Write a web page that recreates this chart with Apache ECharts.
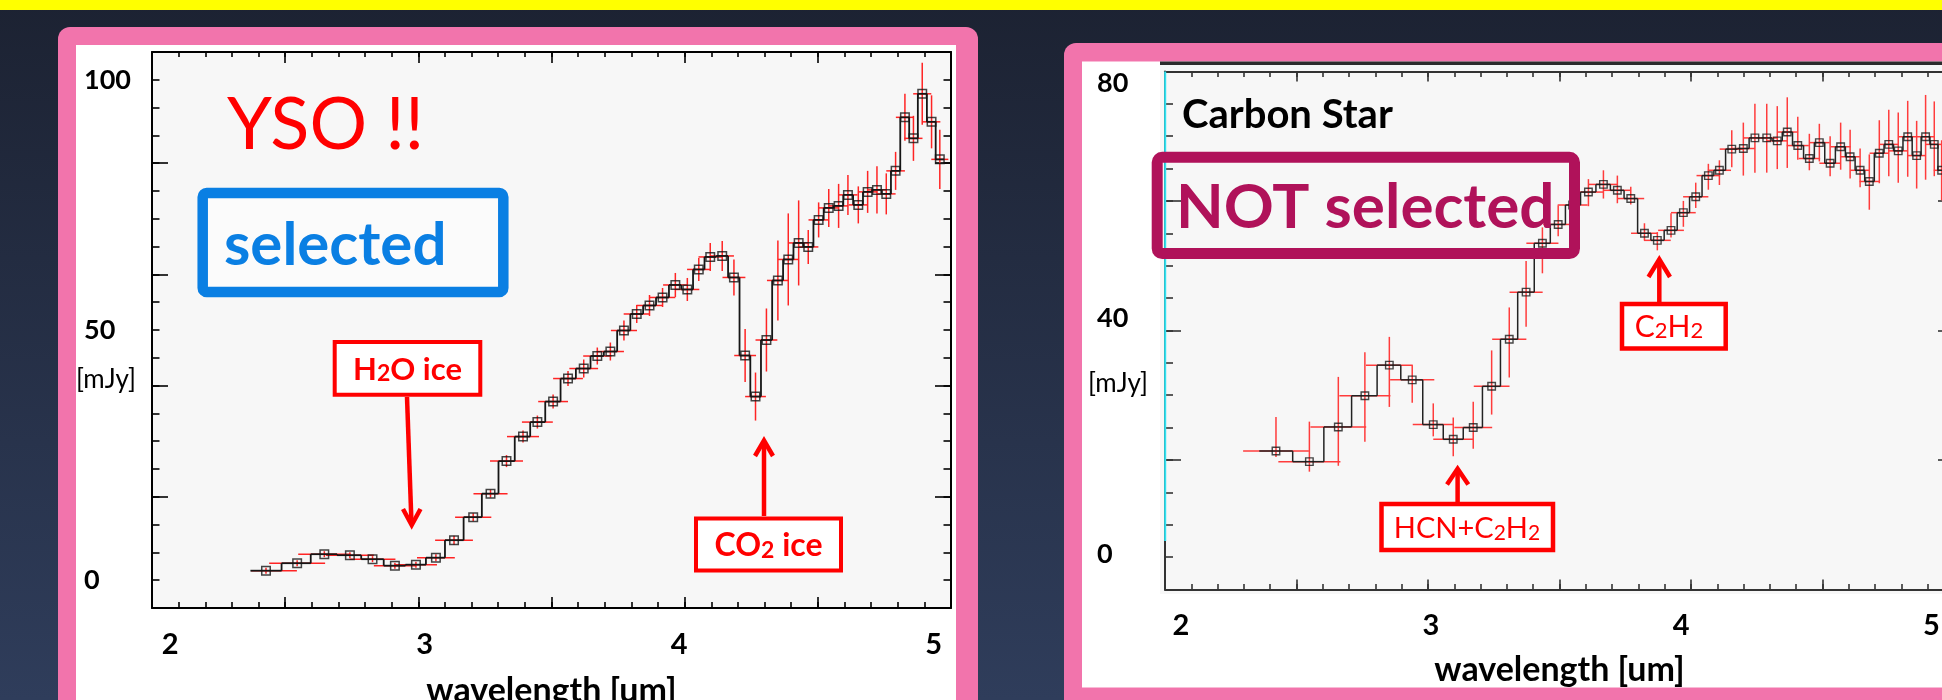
<!DOCTYPE html>
<html><head><meta charset="utf-8">
<script src="https://cdn.jsdelivr.net/npm/echarts@6/dist/echarts.min.js"></script>
<style>html,body{margin:0;padding:0;background:#1f2637;}#c{width:1942px;height:700px;}</style>
</head><body><div id="c"></div>
<script>
// ---------------- DATA ----------------
// YSO spectrum (left panel): wavelength [um], flux [mJy], flux error [mJy], bin extent left/right [um]
const ysoWavelength = [2.428,2.545,2.647,2.743,2.828,2.912,2.991,3.066,3.134,3.206,3.271,3.331,3.393,3.447,3.506,3.562,3.621,3.672,3.721,3.772,3.820,3.868,3.917,3.965,4.010,4.053,4.096,4.141,4.185,4.227,4.266,4.307,4.350,4.389,4.428,4.464,4.503,4.541,4.578,4.613,4.652,4.687,4.722,4.757,4.792,4.827,4.859,4.892,4.927,4.958];
const ysoFlux = [1.9,3.4,5.2,5.0,4.2,2.9,3.1,4.5,8.0,12.6,17.3,23.8,28.7,31.6,35.7,40.3,42.3,44.8,45.7,49.9,53.2,54.9,56.5,59.0,58.1,62.1,64.6,64.8,60.5,44.9,36.7,48.0,59.9,64.1,67.4,66.6,72.0,74.4,74.8,77.0,75.0,77.6,78.0,77.2,81.8,92.5,88.3,97.2,91.6,84.1];
const ysoFluxErr = [0.6,0.6,0.6,0.6,0.6,0.6,0.6,0.7,0.9,0.8,0.8,1.2,1.2,1.3,1.4,1.5,1.8,1.7,1.8,2.0,1.8,2.1,1.9,2.4,2.3,2.3,2.8,3.0,3.6,5.3,4.8,6.3,8.0,9.2,8.5,3.4,3.5,3.8,4.4,4.0,3.7,4.2,4.7,4.1,3.8,4.7,4.5,6.2,5.3,5.9];
const ysoBinLeft = [0.056,0.105,0.098,0.090,0.086,0.079,0.079,0.071,0.071,0.068,0.064,0.062,0.060,0.058,0.056,0.056,0.054,0.053,0.051,0.049,0.049,0.049,0.048,0.046,0.045,0.044,0.044,0.044,0.043,0.041,0.039,0.041,0.041,0.039,0.039,0.038,0.038,0.038,0.036,0.036,0.036,0.036,0.035,0.035,0.035,0.034,0.034,0.034,0.033,0.032];
const ysoBinRight = [0.116,0.105,0.098,0.090,0.086,0.079,0.079,0.071,0.071,0.068,0.064,0.062,0.060,0.058,0.056,0.056,0.054,0.053,0.051,0.049,0.049,0.049,0.048,0.046,0.045,0.044,0.044,0.044,0.043,0.041,0.039,0.041,0.041,0.039,0.039,0.038,0.038,0.038,0.036,0.036,0.036,0.036,0.035,0.035,0.035,0.034,0.034,0.034,0.033,0.032];

// Carbon star spectrum (right panel)
const carbonWavelength = [2.422,2.549,2.659,2.760,2.853,2.940,3.020,3.096,3.172,3.242,3.309,3.373,3.435,3.495,3.550,3.610,3.667,3.720,3.771,3.823,3.872,3.924,3.971,4.018,4.066,4.108,4.155,4.199,4.243,4.288,4.328,4.366,4.406,4.450,4.488,4.529,4.569,4.605,4.643,4.678,4.716,4.752,4.788,4.824,4.858,4.892,4.925,4.953];
const carbonFlux = [17.5,15.7,21.6,26.9,32.1,29.6,22.0,19.5,21.5,28.5,36.5,44.5,52.8,56.0,59.3,61.5,62.8,61.8,60.4,54.5,53.3,55.0,58.0,60.7,64.3,65.2,68.8,68.9,70.7,70.7,70.2,71.7,69.4,67.2,69.9,66.4,69.2,67.5,65.2,63.3,68.1,69.6,68.5,70.9,67.7,70.9,69.6,65.2];
const carbonErrUp = [5.8,6.8,8.5,7.4,4.8,2.5,3.6,3.7,4.4,6.1,5.4,5.3,2.7,3.2,2.0,2.2,2.4,2.5,2.0,1.7,1.4,2.9,2.0,2.4,2.0,1.7,3.2,4.4,5.8,5.8,5.9,5.9,4.9,4.2,3.2,4.6,4.1,4.6,3.7,4.6,5.6,5.9,6.5,6.1,5.9,7.1,7.3,5.1];
const carbonErrDown = [1.0,1.7,6.6,7.8,7.1,3.9,2.0,2.9,3.6,4.8,6.5,5.9,5.1,2.0,2.0,2.4,2.4,2.2,1.0,1.2,1.7,1.2,2.4,1.9,2.4,2.5,3.1,4.6,5.9,5.9,4.8,6.1,2.4,2.0,3.2,2.2,3.9,3.7,2.9,4.8,5.1,5.4,5.4,6.8,5.6,7.3,5.4,5.1];
const carbonBinHalfWidth = [0.125,0.118,0.106,0.097,0.089,0.084,0.078,0.076,0.072,0.068,0.065,0.063,0.061,0.057,0.057,0.057,0.055,0.052,0.051,0.051,0.051,0.049,0.047,0.048,0.045,0.044,0.046,0.044,0.044,0.043,0.039,0.039,0.042,0.041,0.039,0.041,0.038,0.037,0.037,0.037,0.037,0.036,0.036,0.035,0.034,0.033,0.032,0.030];

// Tick labels
const xTickLabels = [2, 3, 4, 5];
const ysoYTickLabels = [0, 50, 100];
const carbonYTickLabels = [0, 40, 80];

// ---------------- HELPERS ----------------
function tickList(min, max, step) {
  const out = []; const n = Math.round((max - min) / step);
  for (let i = 0; i <= n; i++) out.push(+(min + i * step).toFixed(6));
  return out;
}
// item: [x, y, xLeftExtent, xRightExtent, errDown, errUp]
function errData(xs, ys, xl, xr, lo, hi) { return xs.map((x, i) => [x, ys[i], xl[i], xr[i], lo[i], hi[i]]); }
function stepData(xs, ys) {
  const n = xs.length;
  return xs.map((x, i) => {
    const l = i > 0 ? (xs[i - 1] + x) / 2 : x - (xs[1] - xs[0]) / 2;
    const r = i < n - 1 ? (x + xs[i + 1]) / 2 : x + (x - xs[n - 2]) / 2;
    const yn = i < n - 1 ? ys[i + 1] : ys[i];
    return [x, ys[i], l, r, yn];
  });
}
function errRender(color, w) {
  return function (params, api) {
    const x = api.value(0), y = api.value(1), xl = api.value(2), xr = api.value(3), lo = api.value(4), hi = api.value(5);
    const a = api.coord([x - xl, y]), b = api.coord([x + xr, y]);
    const c = api.coord([x, y - lo]), d = api.coord([x, y + hi]);
    return { type: 'group', children: [
      { type: 'line', shape: { x1: a[0], y1: a[1], x2: b[0], y2: b[1] }, style: { stroke: color, lineWidth: w } },
      { type: 'line', shape: { x1: c[0], y1: c[1], x2: d[0], y2: d[1] }, style: { stroke: color, lineWidth: w } }
    ]};
  };
}
function stepRender(color, w) {
  return function (params, api) {
    const y = api.value(1), xl = api.value(2), xr = api.value(3), yn = api.value(4);
    const a = api.coord([xl, y]), b = api.coord([xr, y]), c = api.coord([xr, yn]);
    return { type: 'group', children: [
      { type: 'line', shape: { x1: a[0], y1: a[1], x2: b[0], y2: b[1] }, style: { stroke: color, lineWidth: w } },
      { type: 'line', shape: { x1: b[0], y1: b[1], x2: c[0], y2: c[1] }, style: { stroke: color, lineWidth: w } }
    ]};
  };
}

const FONT = 'Lato, "Open Sans", sans-serif';
const LBL = { show: true, fontFamily: FONT, fontWeight: 'bold', fontSize: 27, color: '#000' };
const XLBL = { show: true, fontFamily: FONT, fontWeight: 'bold', fontSize: 29, color: '#000' };

function tickAxis(grid, pos, min, max, ticks, len, showLine, color, extra) {
  return Object.assign({
    type: 'value', gridIndex: grid, position: pos, min: min, max: max, z: 5,
    axisLine: { show: showLine, onZero: false, lineStyle: { color: color, width: 2 } },
    axisTick: { show: true, inside: true, length: len, customValues: ticks, lineStyle: { color: color, width: 1.6 } },
    axisLabel: { show: false }, splitLine: { show: false }
  }, extra || {});
}
function labelAxisX(grid, min, max, margin) {
  return { type: 'value', gridIndex: grid, position: 'bottom', min: min, max: max, z: 5,
    axisLine: { show: false }, axisTick: { show: false }, splitLine: { show: false },
    axisLabel: Object.assign({ customValues: xTickLabels, margin: margin }, XLBL) };
}

// axis ranges / ticks
const ysoX = { min: 2, max: 5 };
const ysoY = { min: -50 / 9, max: 950 / 9 };
const cX = { min: 2, max: 5 };
const cY = { min: -6, max: 82 };
const xMaj = tickList(2, 5, 0.5), xMin = tickList(2, 5, 0.1);
const ysoYMaj = tickList(ysoY.min, ysoY.max, 200 / 9), ysoYMin = tickList(ysoY.min, ysoY.max, 50 / 9);
const cYMaj = tickList(cY.min, cY.max, 22), cYMin = tickList(cY.min, cY.max, 5.5);

const nameStyle = { fontFamily: FONT, fontWeight: 'bold', fontSize: 34, color: '#000' };

const xAxes = [
  tickAxis(0, 'bottom', ysoX.min, ysoX.max, xMaj, 11, true, '#000', {
    name: 'wavelength [um]', nameLocation: 'middle', nameGap: 66, nameTextStyle: nameStyle }),
  tickAxis(0, 'bottom', ysoX.min, ysoX.max, xMin, 6, false, '#000'),
  tickAxis(0, 'top', ysoX.min, ysoX.max, xMaj, 11, true, '#000'),
  tickAxis(0, 'top', ysoX.min, ysoX.max, xMin, 5, false, '#000'),
  labelAxisX(0, 1.9284, 5.0685, 22),
  tickAxis(1, 'bottom', cX.min, cX.max, xMaj, 10, true, '#333', {
    name: 'wavelength [um]', nameLocation: 'middle', nameGap: 64, nameTextStyle: nameStyle }),
  tickAxis(1, 'bottom', cX.min, cX.max, xMin, 5.5, false, '#333'),
  tickAxis(1, 'top', cX.min, cX.max, xMaj, 10, true, '#333'),
  tickAxis(1, 'top', cX.min, cX.max, xMin, 5.5, false, '#333'),
  labelAxisX(1, 1.9366, 5.0906, 22)
];
const yAxes = [
  tickAxis(0, 'left', ysoY.min, ysoY.max, ysoYMaj, 16, true, '#000', {
    axisLabel: Object.assign({ customValues: ysoYTickLabels, align: 'left', margin: 68 }, LBL) }),
  tickAxis(0, 'left', ysoY.min, ysoY.max, ysoYMin, 7.5, false, '#000'),
  tickAxis(0, 'right', ysoY.min, ysoY.max, ysoYMaj, 16, true, '#000'),
  tickAxis(0, 'right', ysoY.min, ysoY.max, ysoYMin, 7.5, false, '#000'),
  tickAxis(1, 'left', cY.min, cY.max, cYMaj, 16, true, '#333', {
    axisLabel: Object.assign({ customValues: carbonYTickLabels, align: 'left', margin: 68 }, LBL) }),
  tickAxis(1, 'left', cY.min, cY.max, cYMin, 8, false, '#333'),
  tickAxis(1, 'right', cY.min, cY.max, cYMaj, 16, true, '#333'),
  tickAxis(1, 'right', cY.min, cY.max, cYMin, 8, false, '#333')
];

const series = [
  { type: 'custom', name: 'YSO errors', xAxisIndex: 0, yAxisIndex: 0, z: 10, silent: true,
    renderItem: errRender('#ff2424', 1.5), encode: { x: 0, y: 1 },
    data: errData(ysoWavelength, ysoFlux, ysoBinLeft, ysoBinRight, ysoFluxErr, ysoFluxErr) },
  { type: 'custom', name: 'YSO step', xAxisIndex: 0, yAxisIndex: 0, z: 11, silent: true,
    renderItem: stepRender('#151515', 1.8), encode: { x: 0, y: 1 },
    data: stepData(ysoWavelength, ysoFlux) },
  { type: 'scatter', name: 'YSO', xAxisIndex: 0, yAxisIndex: 0, z: 12, silent: true,
    symbol: 'rect', symbolSize: 8.5,
    itemStyle: { color: 'rgba(0,0,0,0)', borderColor: '#151515', borderWidth: 1.5 },
    data: ysoWavelength.map((x, i) => [x, ysoFlux[i]]) },
  { type: 'custom', name: 'Carbon errors', xAxisIndex: 5, yAxisIndex: 4, z: 10, silent: true,
    renderItem: errRender('#ff3c3c', 1.5), encode: { x: 0, y: 1 },
    data: errData(carbonWavelength, carbonFlux, carbonBinHalfWidth, carbonBinHalfWidth, carbonErrDown, carbonErrUp) },
  { type: 'custom', name: 'Carbon step', xAxisIndex: 5, yAxisIndex: 4, z: 11, silent: true,
    renderItem: stepRender('#222', 1.5), encode: { x: 0, y: 1 },
    data: stepData(carbonWavelength, carbonFlux) },
  { type: 'scatter', name: 'Carbon', xAxisIndex: 5, yAxisIndex: 4, z: 12, silent: true,
    symbol: 'rect', symbolSize: 7.5,
    itemStyle: { color: 'rgba(0,0,0,0)', borderColor: '#1a1a1a', borderWidth: 1.4 },
    data: carbonWavelength.map((x, i) => [x, carbonFlux[i]]) }
];

// ---------------- DECORATION (slide layout) ----------------
const PINK = '#f274ac', RED = '#ff0000', BLUE = '#0a7fe3', MAG = '#b0125a';
function txt(x, y, text, size, weight, fill, align, rich) {
  return { type: 'text', x: x, y: y, z: 50, silent: true, style: {
    text: text, fill: fill, fontSize: size, fontWeight: weight, fontFamily: FONT,
    align: align || 'left', verticalAlign: 'middle', rich: rich } };
}
function sub(size, fill, weight) {
  return { s: { fontSize: size, fill: fill, fontWeight: weight, fontFamily: FONT, verticalAlign: 'bottom' } };
}
function box(x, y, w, h, lw, stroke, fill, r) {
  return { type: 'rect', z: 45, silent: true, shape: { x: x, y: y, width: w, height: h, r: r || 0 },
    style: { stroke: stroke, lineWidth: lw, fill: fill } };
}
function arrow(x1, y1, x2, y2, head) {
  return [
    { type: 'line', z: 46, silent: true, shape: { x1: x1, y1: y1, x2: x2, y2: y2 }, style: { stroke: RED, lineWidth: 4.5 } },
    { type: 'polyline', z: 46, silent: true, shape: { points: head }, style: { stroke: RED, lineWidth: 4.5, fill: null, lineJoin: 'miter' } }
  ];
}

const graphics = [
  { type: 'rect', z: 0, silent: true, shape: { x: 0, y: 0, width: 1942, height: 700 },
    style: { fill: { type: 'linear', x: 0, y: 0, x2: 0, y2: 1, colorStops: [
      { offset: 0, color: '#1c2232' }, { offset: 1, color: '#2f3d5b' } ] } } },
  { type: 'rect', z: 1, silent: true, shape: { x: 0, y: 0, width: 1942, height: 10 }, style: { fill: '#ffff00' } },
  // left frame
  { type: 'rect', z: 1, silent: true, shape: { x: 58, y: 27, width: 920, height: 700, r: 12 }, style: { fill: PINK } },
  { type: 'rect', z: 2, silent: true, shape: { x: 76, y: 45, width: 880, height: 680 }, style: { fill: '#ffffff' } },
  { type: 'rect', z: 3, silent: true, shape: { x: 152, y: 52, width: 799, height: 556 }, style: { fill: '#f7f7f7' } },
  // right frame
  { type: 'rect', z: 1, silent: true, shape: { x: 1064, y: 43, width: 920, height: 700, r: 12 }, style: { fill: PINK } },
  { type: 'rect', z: 2, silent: true, shape: { x: 1082, y: 61.5, width: 900, height: 626 }, style: { fill: '#ffffff' } },
  { type: 'rect', z: 3, silent: true, shape: { x: 1160, y: 64, width: 800, height: 530 }, style: { fill: '#f7f7f7' } },
  { type: 'rect', z: 3, silent: true, shape: { x: 1160, y: 61.5, width: 800, height: 3.5 }, style: { fill: '#2c2c2c' } },
  { type: 'line', z: 6, silent: true, shape: { x1: 1165.2, y1: 71.4, x2: 1165.2, y2: 541 }, style: { stroke: '#2fe3f2', lineWidth: 2 } },

  // left annotations
  txt(227, 126, 'YSO !!', 72, 'normal', RED),
  box(202.7, 193, 300.6, 99, 10.5, BLUE, 'rgba(255,255,255,0.5)', 4),
  txt(224, 246, 'selected', 60, 'bold', BLUE),
  box(334.7, 342, 145.6, 52.7, 4, RED, '#ffffff'),
  txt(407.5, 370, 'H{s|2}O ice', 31, 'bold', RED, 'center', sub(23, RED, 'bold')),
  ...arrow(407, 397, 411.4, 521, [[403, 509], [411.7, 525], [420.5, 509]]),
  box(696, 518.4, 145, 52, 4, RED, '#ffffff'),
  txt(768.5, 546, 'CO{s|2} ice', 32, 'bold', RED, 'center', sub(23, RED, 'bold')),
  ...arrow(764, 516, 764, 444, [[755, 456], [764, 440.5], [773, 456]]),
  txt(76, 380, '[mJy]', 26, 'normal', '#000'),

  // right annotations
  txt(1182, 115, 'Carbon Star', 40, 'bold', '#000'),
  box(1157.2, 157.3, 417.3, 96.2, 11, MAG, 'rgba(0,0,0,0)', 5),
  txt(1176, 208, 'NOT selected', 62, 'bold', MAG),
  box(1622, 304, 103.7, 44.6, 4.5, RED, '#ffffff'),
  txt(1669, 327, 'C{s|2}H{s|2}', 30, 'normal', RED, 'center', sub(22, RED, 'normal')),
  ...arrow(1659.3, 302, 1659.3, 263, [[1648.5, 277], [1659.3, 259.4], [1670, 277]]),
  box(1381.5, 504, 171.5, 46, 4.5, RED, '#ffffff'),
  txt(1467, 529, 'HCN+C{s|2}H{s|2}', 29, 'normal', RED, 'center', sub(21, RED, 'normal')),
  ...arrow(1457.6, 502, 1457.6, 472, [[1447, 484.4], [1457.6, 468.8], [1468.3, 484.4]]),
  txt(1088, 384, '[mJy]', 26, 'normal', '#000')
];

const option = {
  animation: false,
  backgroundColor: '#1f2637',
  grid: [
    { left: 152, top: 52, width: 799, height: 556, show: false, containLabel: false, outerBoundsMode: 'none' },
    { left: 1165, top: 71.4, width: 789, height: 518, show: false, containLabel: false, outerBoundsMode: 'none' }
  ],
  xAxis: xAxes,
  yAxis: yAxes,
  series: series,
  graphic: { elements: graphics }
};

const chart = echarts.init(document.getElementById('c'), null, { renderer: 'canvas', width: 1942, height: 700 });
chart.setOption(option);
</script>
</body></html>
